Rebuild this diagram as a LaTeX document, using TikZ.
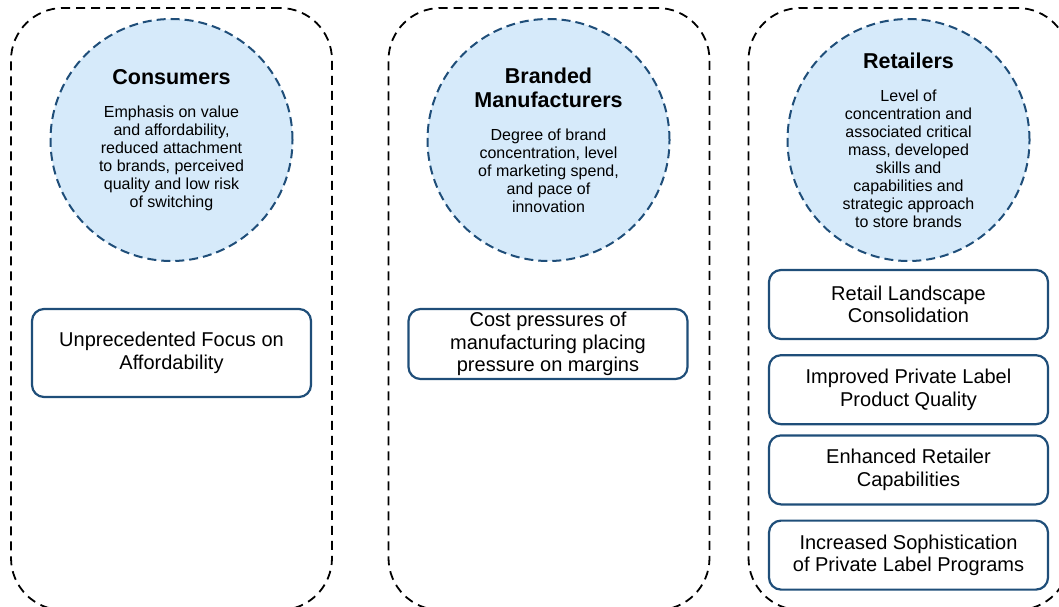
\documentclass[tikz,border=0pt]{standalone}
\usepackage{fontspec}
\setmainfont{Liberation Sans}
\usepackage{tikz}
\usetikzlibrary{positioning}

\definecolor{circfill}{RGB}{214,234,250}
\definecolor{navy}{RGB}{31,78,121}
\newcommand{\hdfont}{\fontsize{21.5}{23.5}\selectfont\bfseries}
\newcommand{\bdfont}{\fontsize{16}{18}\selectfont\mdseries}

\begin{document}
\begin{tikzpicture}[x=1pt,y=-1pt,font=\fontsize{16}{18}\selectfont]
          \tikzstyle{column}=[draw=black,dash pattern=on 9pt off 6pt,line width=1.8pt,
                              rounded corners=52pt,minimum width=321pt,minimum height=602pt]
          \tikzstyle{driver}=[circle,draw=navy,fill=circfill,dash pattern=on 9pt off 5pt,
                              line width=2pt,minimum size=242pt,inner sep=0pt,align=center]
          \tikzstyle{trend}=[draw=navy,line width=2.2pt,rounded corners=12pt,minimum width=279pt,
                             minimum height=69pt,inner xsep=2pt,inner ysep=0pt,align=center,
                             font=\fontsize{20}{22.5}\selectfont]

          \useasboundingbox (0,0) rectangle (1059,607);

          \node[column] (C1) at (171.5,309) {};
          \node[column] (C2) at (549,309) {};
          \node[column] (C3) at (909,309) {};

          \node[driver] (cons) at (171.5,140) {\hdfont Consumers\\[15pt]
                \bdfont Emphasis on value\\and affordability,\\reduced attachment\\to brands, perceived\\
                quality and low risk\\of switching};
          \node[driver] (manu) at (548.5,140) {\hdfont Branded\\[6pt]\hdfont Manufacturers\\[15pt]
                \bdfont Degree of brand\\concentration, level\\of marketing spend,\\and pace of\\innovation};
          \node[driver] (reta) at (908.5,140) {\hdfont Retailers\\[15pt]
                \bdfont Level of\\concentration and\\associated critical\\mass, developed\\skills and\\
                capabilities and\\strategic approach\\to store brands};

          \node[trend,minimum height=88pt] (afford) at (171.5,353) {Unprecedented Focus on\\Affordability};
          \node[trend,minimum height=70pt] (cost) at (548,344) {Cost pressures of\\manufacturing placing\\pressure on margins};

          \node[trend] (R1) at (908.5,304.5) {Retail Landscape\\Consolidation};
          \node[trend] (R2) [below=14pt of R1] {Improved Private Label\\Product Quality};
          \node[trend] (R3) [below=9pt of R2] {Enhanced Retailer\\Capabilities};
          \node[trend] (R4) [below=14pt of R3] {Increased Sophistication\\of Private Label Programs};

        \end{tikzpicture}
\end{document}
